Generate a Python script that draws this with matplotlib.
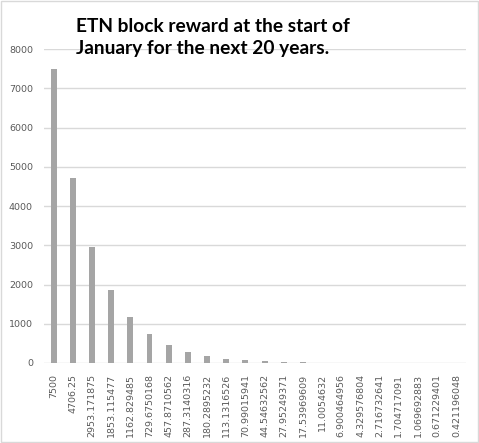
import matplotlib.pyplot as plt
import numpy as np
from matplotlib.patches import Rectangle

# block reward per year (also used as the category labels)
labels = ['7500', '4706.25', '2953.171875', '1853.115477', '1162.829485',
          '729.6750168', '457.8710562', '287.3140316', '180.2895232',
          '113.1316526', '70.99015941', '44.54632562', '27.95249371',
          '17.53969609', '11.0054632', '6.900464956', '4.329576804',
          '2.716732641', '1.704717091', '1.069692883', '0.671229401',
          '0.421196048']
rewards = [float(s) for s in labels]
yticks = [0, 1000, 2000, 3000, 4000, 5000, 6000, 7000, 8000]

fig = plt.figure(figsize=(4.79, 4.43), dpi=100)
ax = fig.add_axes([0.0919, 0.1806, 0.881, 0.7084])

x = np.arange(len(rewards))
ax.bar(x, rewards, width=0.31, color='#a5a5a5', zorder=3)

ax.set_xlim(-0.5, len(rewards) - 0.5)
ax.set_ylim(0, 8000)
ax.set_yticks(yticks)
ax.set_yticklabels([str(t) for t in yticks])
ax.set_xticks(x)
ax.set_xticklabels(labels, rotation=90)
ax.tick_params(axis='both', length=0, labelsize=6.8, labelcolor='#595959')
ax.tick_params(axis='y', pad=8)
ax.tick_params(axis='x', pad=8)
ax.grid(axis='y', color='#d9d9d9', linewidth=1, zorder=0)
for s in ax.spines.values():
    s.set_visible(False)

fig.text(0.159, 0.96, 'ETN block reward at the start of\nJanuary for the next 20 years.',
         ha='left', va='top', fontsize=13.8, fontweight='bold', family='Lato',
         linespacing=1.4)

# light frame round the whole chart
fig.patches.append(Rectangle((0.002, 0.002), 0.996, 0.996, transform=fig.transFigure,
                             fill=False, edgecolor='#d9d9d9', linewidth=1))

fig.savefig('out.png', dpi=100)
